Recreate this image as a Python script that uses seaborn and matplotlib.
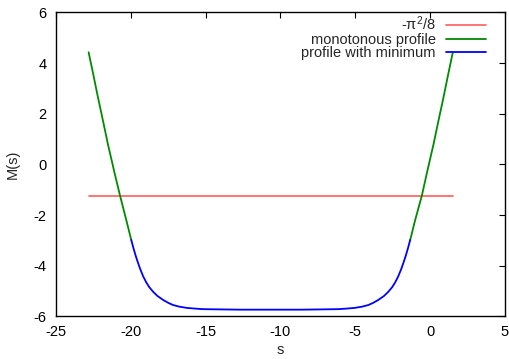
import numpy as np
import pandas as pd
import matplotlib
matplotlib.use("Agg")
import matplotlib.pyplot as plt
import seaborn as sns

# ---- data ----
red_s = [-22.82, 1.52]
red_M = [-np.pi**2 / 8, -np.pi**2 / 8]

green_left_s = [-22.82, -22.5, -22.2, -21.85, -21.53, -21.1, -20.72, -20.3, -19.97]
green_left_M = [4.43, 3.53, 2.66, 1.70, 0.80, -0.30, -1.23, -2.20, -2.98]

green_right_s = [-1.33, -1.0, -0.55, -0.2, 0.23, 0.55, 0.9, 1.2, 1.52]
green_right_M = [-2.98, -2.20, -1.23, -0.30, 0.80, 1.70, 2.66, 3.53, 4.43]

blue_s = [-19.97, -19.82, -19.67, -19.52, -19.37, -19.17, -18.97, -18.77,
          -18.5, -18.22, -17.83, -17.47, -17.16, -16.77, -16.27, -15.67,
          -15.16, -13.97, -12.7, -10.65, -8.6, -7.33, -6.14, -5.63, -5.03,
          -4.53, -4.14, -3.83, -3.47, -3.08, -2.8, -2.53, -2.33, -2.13,
          -1.93, -1.78, -1.63, -1.48, -1.33]
blue_M = [-2.98, -3.31, -3.61, -3.88, -4.13, -4.42, -4.65, -4.84,
          -5.03, -5.19, -5.35, -5.47, -5.55, -5.61, -5.66, -5.69,
          -5.71, -5.72, -5.73, -5.73, -5.73, -5.72, -5.71, -5.69, -5.66,
          -5.61, -5.55, -5.47, -5.35, -5.19, -5.03, -4.84, -4.65, -4.42,
          -4.13, -3.88, -3.61, -3.31, -2.98]

x_ticks = [-25, -20, -15, -10, -5, 0, 5]
y_ticks = [-6, -4, -2, 0, 2, 4, 6]

# ---- style ----
sns.set_theme(style="white")
plt.rcParams["font.family"] = ["Liberation Sans", "DejaVu Sans"]
plt.rcParams["axes.unicode_minus"] = False
plt.rcParams["font.size"] = 10.5

fig = plt.figure(figsize=(5.10, 3.59), dpi=100)
ax = fig.add_axes([0.1098, 0.1184, 0.8802, 0.8468])

sns.lineplot(x=red_s, y=red_M, ax=ax, color="#ff6a6a", lw=1.3,
             label=r"-$\mathregular{\pi^2}$/8", sort=False, estimator=None)
sns.lineplot(x=green_left_s, y=green_left_M, ax=ax, color="#008a00", lw=1.3,
             label="monotonous profile", sort=False, estimator=None)
sns.lineplot(x=green_right_s, y=green_right_M, ax=ax, color="#008a00", lw=1.3,
             label="_nolegend_", sort=False, estimator=None)
sns.lineplot(x=blue_s, y=blue_M, ax=ax, color="#0000ff", lw=1.3,
             label="profile with minimum", sort=False, estimator=None)

ax.set_xlim(-25, 5)
ax.set_ylim(-6, 6)
ax.set_xticks(x_ticks)
ax.set_yticks(y_ticks)
ax.set_xticklabels([str(t) for t in x_ticks])
ax.set_yticklabels([str(t) for t in y_ticks])
ax.tick_params(direction="in", length=4, width=0.8, colors="black",
               top=True, right=True, labelsize=10.5)
ax.tick_params(axis="x", pad=6)
ax.tick_params(axis="y", pad=7)
for sp in ax.spines.values():
    sp.set_color("black")
    sp.set_linewidth(1.0)
ax.grid(False)

ax.set_xlabel("s", fontsize=10.5, labelpad=3)
ax.set_ylabel("M(s)", fontsize=10.5, labelpad=10)

leg = ax.legend(loc="upper right", frameon=False, markerfirst=False,
                fontsize=10.5, handlelength=2.75, handletextpad=0.68,
                labelspacing=-0.05, borderaxespad=0.3,
                bbox_to_anchor=(0.9806, 1.026))

fig.savefig("out.png", dpi=100)
